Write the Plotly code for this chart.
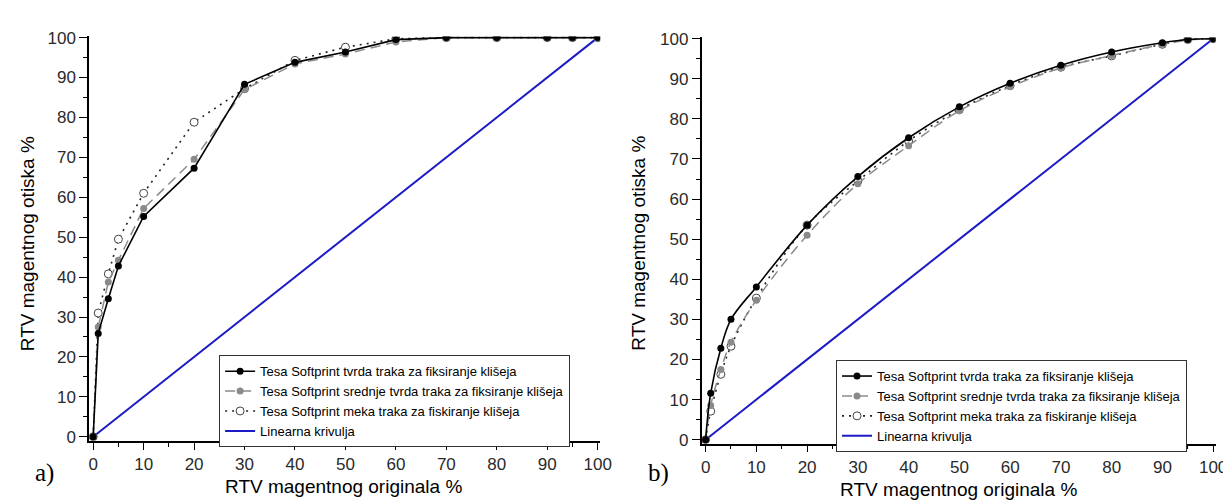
import plotly.graph_objects as go

# RTV values of the original (x) - same for both panels
x_orig = [0, 1, 3, 5, 10, 20, 30, 40, 50, 60, 70, 80, 90, 95, 100]

# panel a)
a_tvrda = [0, 25.9, 34.6, 42.8, 55.2, 67.3, 88.3, 93.8, 96.4, 99.5, 100, 100, 100, 100, 100]
a_srednje = [0, 27.5, 38.8, 44.2, 57.2, 69.5, 87.0, 93.4, 95.9, 98.9, 100, 100, 100, 100, 100]
a_meka = [0, 31.0, 40.8, 49.5, 61.0, 78.8, 87.2, 94.3, 97.6, 99.7, 100, 100, 100, 100, 100]

# panel b)
b_tvrda = [0, 11.6, 22.8, 30.0, 38.1, 53.5, 65.6, 75.3, 83.0, 88.9, 93.4, 96.7, 99.0, 99.8, 100]
b_srednje = [0, 8.5, 17.5, 24.3, 34.8, 51.0, 63.8, 73.3, 82.0, 88.0, 92.7, 95.8, 98.6, 99.6, 100]
b_meka = [0, 7.1, 16.3, 23.3, 35.3, 53.5, 64.5, 74.5, 82.3, 88.3, 92.9, 95.7, 98.6, 99.8, 100]

linear = [0, 100]
linear_x = [0, 100]

names = ["Tesa Softprint tvrda traka za fiksiranje klišeja",
         "Tesa Softprint srednje tvrda traka za fiksiranje klišeja",
         "Tesa Softprint meka traka za fiskiranje klišeja",
         "Linearna krivulja"]

BLUE = "#1b1bc6"
GRAY = "#8a8a8a"

fig = go.Figure()


def add_panel(xa, ya, leg, tvrda, srednje, meka, shape):
    fig.add_trace(go.Scatter(x=linear_x, y=linear, mode="lines", name=names[3],
                             line=dict(color=BLUE, width=2), legendrank=4,
                             xaxis=xa, yaxis=ya, legend=leg))
    fig.add_trace(go.Scatter(x=x_orig, y=meka, mode="lines+markers", name=names[2],
                             line=dict(color="#222", width=1.6, dash="2px,5px", shape=shape),
                             marker=dict(symbol="circle", size=8, color="white",
                                         line=dict(color="#444", width=1)),
                             legendrank=3, xaxis=xa, yaxis=ya, legend=leg))
    fig.add_trace(go.Scatter(x=x_orig, y=srednje, mode="lines+markers", name=names[1],
                             line=dict(color=GRAY, width=1.5, dash="10px,6px", shape=shape),
                             marker=dict(symbol="circle", size=7, color=GRAY),
                             legendrank=2, xaxis=xa, yaxis=ya, legend=leg))
    fig.add_trace(go.Scatter(x=x_orig, y=tvrda, mode="lines+markers", name=names[0],
                             line=dict(color="black", width=1.6, shape=shape),
                             marker=dict(symbol="circle", size=7, color="black"),
                             legendrank=1, xaxis=xa, yaxis=ya, legend=leg))


add_panel("x", "y", "legend", a_tvrda, a_srednje, a_meka, "linear")
add_panel("x2", "y2", "legend2", b_tvrda, b_srednje, b_meka, "spline")

tickfont = dict(family="Arial", size=17, color="#2a2a2a")
common_x = dict(range=[-0.8, 100.5], tickvals=list(range(0, 101, 10)), showgrid=False,
                zeroline=False, showline=True, linecolor="black", linewidth=1.5,
                ticks="outside", ticklen=7, tickwidth=1.3, tickcolor="black",
                minor=dict(dtick=5, tick0=0, ticks="outside", ticklen=4, tickcolor="black"),
                tickfont=tickfont, fixedrange=True)
common_y = dict(range=[-1, 100.3], tickvals=list(range(0, 101, 10)), showgrid=False,
                zeroline=False, showline=True, linecolor="black", linewidth=1.5,
                ticks="outside", ticklen=8, tickwidth=1.3, tickcolor="black",
                minor=dict(dtick=5, tick0=0, ticks="outside", ticklen=4, tickcolor="black"),
                tickfont=tickfont, fixedrange=True)

legend_style = dict(font=dict(family="Arial", size=13, color="black"), bgcolor="white",
                    bordercolor="#333", borderwidth=1, xanchor="left", yanchor="top",
                    itemwidth=30, tracegroupgap=0)

fig.update_layout(
    width=1231, height=500,
    margin=dict(l=0, r=0, t=0, b=0),
    paper_bgcolor="white", plot_bgcolor="white",
    xaxis=dict(domain=[0.0658, 0.4854], anchor="y", **common_x),
    yaxis=dict(domain=[0.126, 0.958], anchor="x", **common_y),
    xaxis2=dict(domain=[0.5686, 0.9907], anchor="y2", **common_x),
    yaxis2=dict(domain=[0.12, 0.9558], anchor="x2", **common_y),
    legend=dict(x=0.1725, y=0.302, **legend_style),
    legend2=dict(x=0.679, y=0.292, **legend_style),
    showlegend=True,
)

title_font = dict(family="Arial", size=19, color="black")
label_font = dict(family="Liberation Serif", size=25, color="black")
annotations = [
    dict(text="RTV magentnog originala %", x=338, y=484, font=title_font),
    dict(text="RTV magentnog originala %", x=960, y=487, font=title_font),
    dict(text="RTV magentnog otiska %", x=19, y=234, textangle=-90, font=title_font),
    dict(text="RTV magentnog otiska %", x=636, y=234, textangle=-90, font=title_font),
    dict(text="a)", x=36, y=470, font=label_font),
    dict(text="b)", x=656, y=470, font=label_font),
]
for a in annotations:
    fig.add_annotation(text=a["text"], x=a["x"] / 1231, y=1 - a["y"] / 500,
                       xref="paper", yref="paper", showarrow=False,
                       xanchor="center", yanchor="middle",
                       textangle=a.get("textangle", 0), font=a["font"])

fig.write_html("out.html")
